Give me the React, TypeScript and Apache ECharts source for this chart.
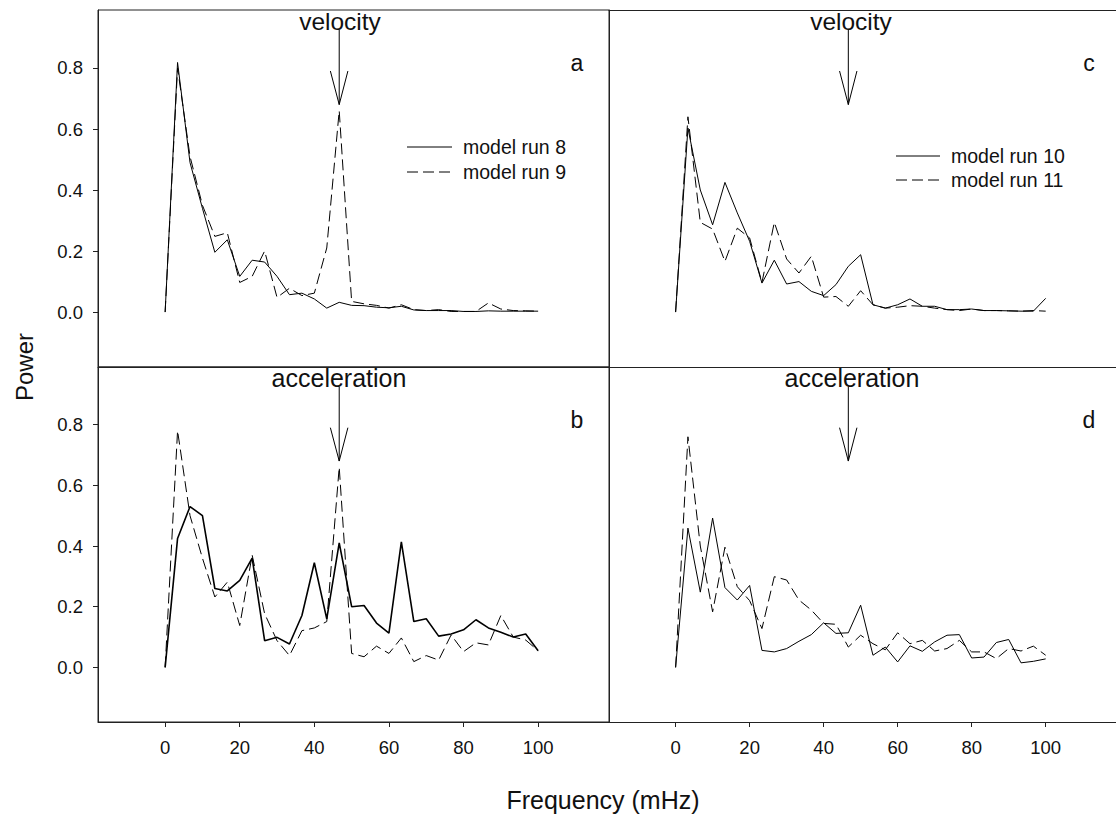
import React, { useEffect, useRef } from "react";
import * as echarts from "echarts";

const FREQ = [0, 3.33, 6.67, 10, 13.33, 16.67, 20, 23.33, 26.67, 30, 33.33, 36.67, 40, 43.33, 46.67, 50, 53.33, 56.67, 60, 63.33, 66.67, 70, 73.33, 76.67, 80, 83.33, 86.67, 90, 93.33, 96.67, 100];

const VEL_RUN8 = [0, 0.818, 0.49, 0.34, 0.196, 0.237, 0.117, 0.17, 0.164, 0.117, 0.057, 0.062, 0.043, 0.013, 0.032, 0.022, 0.021, 0.016, 0.014, 0.019, 0.007, 0.005, 0.005, 0.005, 0.002, 0.002, 0.004, 0.003, 0.003, 0.003, 0.003];
const VEL_RUN9 = [0, 0.8, 0.51, 0.35, 0.248, 0.26, 0.097, 0.117, 0.2, 0.048, 0.078, 0.054, 0.062, 0.21, 0.66, 0.035, 0.027, 0.022, 0.013, 0.024, 0.008, 0.005, 0.008, 0.002, 0.002, 0.002, 0.03, 0.01, 0.005, 0.004, 0.003];
const ACC_RUN8 = [0, 0.425, 0.53, 0.5, 0.26, 0.252, 0.287, 0.36, 0.088, 0.099, 0.077, 0.171, 0.345, 0.16, 0.41, 0.2, 0.204, 0.146, 0.113, 0.414, 0.151, 0.16, 0.103, 0.11, 0.124, 0.157, 0.13, 0.116, 0.1, 0.11, 0.055];
const ACC_RUN9 = [0, 0.78, 0.5, 0.36, 0.232, 0.281, 0.138, 0.37, 0.177, 0.088, 0.039, 0.121, 0.13, 0.151, 0.66, 0.046, 0.035, 0.07, 0.046, 0.097, 0.019, 0.039, 0.024, 0.107, 0.052, 0.081, 0.074, 0.171, 0.1, 0.09, 0.055];
const VEL_RUN10 = [0, 0.603, 0.4, 0.286, 0.425, 0.325, 0.232, 0.095, 0.17, 0.092, 0.1, 0.068, 0.054, 0.09, 0.15, 0.188, 0.024, 0.013, 0.024, 0.043, 0.019, 0.019, 0.008, 0.008, 0.01, 0.005, 0.005, 0.004, 0.003, 0.003, 0.045];
const VEL_RUN11 = [0, 0.64, 0.294, 0.272, 0.166, 0.275, 0.243, 0.097, 0.294, 0.174, 0.128, 0.183, 0.049, 0.051, 0.019, 0.07, 0.024, 0.013, 0.016, 0.021, 0.019, 0.013, 0.008, 0.005, 0.01, 0.005, 0.005, 0.004, 0.003, 0.005, 0.003];
const ACC_RUN10 = [0, 0.459, 0.248, 0.492, 0.263, 0.222, 0.27, 0.056, 0.051, 0.062, 0.086, 0.108, 0.147, 0.112, 0.114, 0.205, 0.04, 0.067, 0.018, 0.071, 0.053, 0.084, 0.106, 0.108, 0.031, 0.034, 0.082, 0.092, 0.015, 0.02, 0.028];
const ACC_RUN11 = [0, 0.76, 0.4, 0.183, 0.396, 0.266, 0.22, 0.128, 0.299, 0.288, 0.222, 0.189, 0.145, 0.142, 0.067, 0.106, 0.078, 0.058, 0.114, 0.078, 0.089, 0.054, 0.062, 0.089, 0.051, 0.051, 0.029, 0.062, 0.054, 0.07, 0.04];

const X_TICKS = [0, 20, 40, 60, 80, 100];
const Y_TICKS = [0, 0.2, 0.4, 0.6, 0.8];

const ARROW_SHAFT = [[46.67, 0.925], [46.67, 0.68]];
const ARROW_HEAD = [[44.3, 0.79], [46.67, 0.68], [49.0, 0.79]];

const FONT = "Liberation Sans, Arial, Helvetica, sans-serif";
const INK = "#111";
const FRAME = "#222";

const pair = (ys: number[]) => ys.map((y, i) => [FREQ[i], y]);

export default function App() {
  const ref = useRef<HTMLDivElement>(null);
  useEffect(() => {
    if (!ref.current) return;
    const chart = echarts.init(ref.current, undefined, { renderer: "svg" });

    const grids = [
      { left: 98, top: 10, width: 511, height: 357, show: true },
      { left: 98, top: 367, width: 511, height: 355, show: true },
      { left: 609, top: 10, width: 512, height: 357, show: false },
      { left: 609, top: 367, width: 512, height: 355, show: false },
    ].map((g) => ({ ...g, borderColor: FRAME, borderWidth: 1, backgroundColor: "transparent" }));

    const xAxes: any[] = grids.map((_, i) => {
      const bottomRow = i === 1 || i === 3;
      return {
        type: "value",
        gridIndex: i,
        position: "bottom",
        min: -18,
        max: 119,
        splitLine: { show: false },
        axisLine: { show: true, onZero: false, lineStyle: { color: FRAME, width: 1 } },
        axisTick: { show: bottomRow, length: 5, lineStyle: { color: FRAME }, customValues: X_TICKS },
        axisLabel: { show: bottomRow, customValues: X_TICKS, margin: 16, fontSize: 18.5, color: INK, fontFamily: FONT },
      };
    });
    // top frame edges of the right-hand panels
    [2, 3].forEach((gi) =>
      xAxes.push({
        type: "value",
        gridIndex: gi,
        position: "top",
        min: -18,
        max: 119,
        splitLine: { show: false },
        axisLine: { show: true, onZero: false, lineStyle: { color: FRAME, width: 1 } },
        axisTick: { show: false },
        axisLabel: { show: false },
      })
    );

    const yAxes = grids.map((_, i) => {
      const leftCol = i === 0 || i === 1;
      return {
        type: "value",
        gridIndex: i,
        position: "left",
        min: -0.18,
        max: 0.99,
        splitLine: { show: false },
        axisLine: { show: true, onZero: false, lineStyle: { color: FRAME, width: 1 } },
        axisTick: { show: leftCol, length: 5, lineStyle: { color: FRAME }, customValues: Y_TICKS },
        axisLabel: {
          show: leftCol,
          customValues: Y_TICKS,
          margin: 15,
          fontSize: 18.5,
          color: INK,
          fontFamily: FONT,
          formatter: (v: number) => v.toFixed(1),
        },
      };
    });

    const lineSeries = (idx: number, name: string, ys: number[], dashed: boolean, width = 1) => ({
      type: "line",
      name,
      xAxisIndex: idx,
      yAxisIndex: idx,
      data: pair(ys),
      symbol: "none",
      silent: true,
      lineStyle: { color: "#000", width, type: dashed ? [11, 5] : "solid" },
    });
    const arrowSeries = (idx: number) => [
      { type: "line", xAxisIndex: idx, yAxisIndex: idx, data: ARROW_SHAFT, symbol: "none", silent: true, lineStyle: { color: "#000", width: 1 } },
      { type: "line", xAxisIndex: idx, yAxisIndex: idx, data: ARROW_HEAD, symbol: "none", silent: true, lineStyle: { color: "#000", width: 1 } },
    ];

    const series = [
      lineSeries(0, "model run 8", VEL_RUN8, false),
      lineSeries(0, "model run 9", VEL_RUN9, true),
      lineSeries(1, "model run 8", ACC_RUN8, false, 1.6),
      lineSeries(1, "model run 9", ACC_RUN9, true),
      lineSeries(2, "model run 10", VEL_RUN10, false),
      lineSeries(2, "model run 11", VEL_RUN11, true),
      lineSeries(3, "model run 10", ACC_RUN10, false),
      lineSeries(3, "model run 11", ACC_RUN11, true),
      ...arrowSeries(0),
      ...arrowSeries(1),
      ...arrowSeries(2),
      ...arrowSeries(3),
    ];

    const txt = (x: number, y: number, text: string, size: number, align = "center", extra: any = {}) => ({
      type: "text",
      x,
      y,
      silent: true,
      ...extra,
      style: { text, fontSize: size, fontFamily: FONT, fill: INK, align, verticalAlign: "middle" },
    });
    const legendLine = (x1: number, x2: number, y: number, dashed: boolean) => ({
      type: "line",
      silent: true,
      shape: { x1, y1: y, x2, y2: y },
      style: { stroke: "#000", lineWidth: 1, lineDash: dashed ? [11, 5] : null },
    });

    const graphic = [
      txt(340, 21, "velocity", 24.5),
      txt(339, 378, "acceleration", 25),
      txt(851, 21, "velocity", 24.5),
      txt(852, 378, "acceleration", 25),
      txt(577, 63, "a", 23),
      txt(577, 420, "b", 23),
      txt(1089, 63, "c", 23),
      txt(1089, 420, "d", 23),
      legendLine(407, 452, 147, false),
      legendLine(407, 452, 172, true),
      txt(463, 147, "model run 8", 19.5, "left"),
      txt(463, 172, "model run 9", 19.5, "left"),
      legendLine(896, 940, 156, false),
      legendLine(896, 940, 180, true),
      txt(951, 156, "model run 10", 19.5, "left"),
      txt(951, 180, "model run 11", 19.5, "left"),
      txt(603, 800, "Frequency (mHz)", 25),
      txt(24, 367, "Power", 24, "center", { rotation: Math.PI / 2 }),
    ];

    chart.setOption({
      animation: false,
      backgroundColor: "#fff",
      grid: grids,
      xAxis: xAxes,
      yAxis: yAxes,
      series,
      graphic,
    });
    return () => chart.dispose();
  }, []);
  return <div ref={ref} style={{ position: "fixed", left: 0, top: 0, width: 1116, height: 816 }} />;
}
